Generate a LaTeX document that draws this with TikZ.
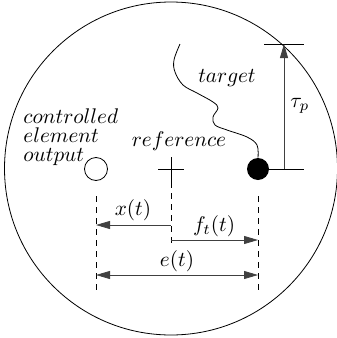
\documentclass[tikz,border=0pt]{standalone}
\usetikzlibrary{arrows.meta}
\begin{document}
\begin{tikzpicture}[x=1pt, y=-1pt, line width=0.8pt,
    lbl/.style={scale=2.12, transform shape, inner sep=0.3pt, font=\fontsize{10}{9}\selectfont},
    dim/.style={draw=black!75, -{Triangle[length=14pt, width=8pt]}},
    guide/.style={dash pattern=on 6pt off 5pt}]
    \useasboundingbox (0,0) rectangle (337,338);
    \draw (171,168.5) circle (166.5);
    % the three positions
    \node[circle, draw, minimum size=23pt, inner sep=0pt] (output) at (96,169) {};
    \coordinate (reference) at (171,169);
    \draw (158,169) -- (184,169);
    \draw (171,157) -- (171,182);
    \node[circle, fill, minimum size=22pt, inner sep=0pt] (target) at (258,169) {};
    % target path
    \draw plot[smooth, tension=0.6] coordinates {(180,44) (174,60) (175,72) (183,85) (197,93)
        (213,102) (218,108) (213,117) (215,125) (227,130) (247,137) (257,145) (target.north)};
    % preview time
    \coordinate (tautop) at (284,44);
    \coordinate (taubot) at (284,169);
    \draw (target.east) -- (304,169);
    \draw (264,44) -- (304,44);
    \draw[dim] (taubot) -- (tautop);
    % dashed guides
    \draw[guide] (96,196) -- (96,294);
    \draw[guide] (258,196) -- (258,294);
    \draw[guide] (reference) ++(0,13) -- (171,243);
    % errors
    \coordinate (xa) at (171,225);
    \coordinate (xb) at (96,225);
    \coordinate (fa) at (171,240);
    \coordinate (fb) at (258,240);
    \coordinate (ea) at (96,275);
    \coordinate (eb) at (258,275);
    \draw[dim] (xa) -- (xb);
    \draw[dim] (fa) -- (fb);
    \draw[dim, {Triangle[length=14pt, width=8pt]}-{Triangle[length=14pt, width=8pt]}] (ea) -- (eb);
    % labels
    \node[lbl] (taulbl) at (300,106) {$\tau_p$};
    \node[lbl] (targetlbl) at (227,78) {$target$};
    \node[lbl] (reflbl) at (179,141) {$reference$};
    \node[lbl, align=left, anchor=west] (outlbl) at (22,137)
        {$controlled$\\$element$\\$output$};
    \node[lbl] (xlbl) at (133,210) {$x(t)$};
    \node[lbl] (flbl) at (214,226) {$f_t(t)$};
    \node[lbl] (elbl) at (177,261) {$e(t)$};
\end{tikzpicture}
\end{document}
